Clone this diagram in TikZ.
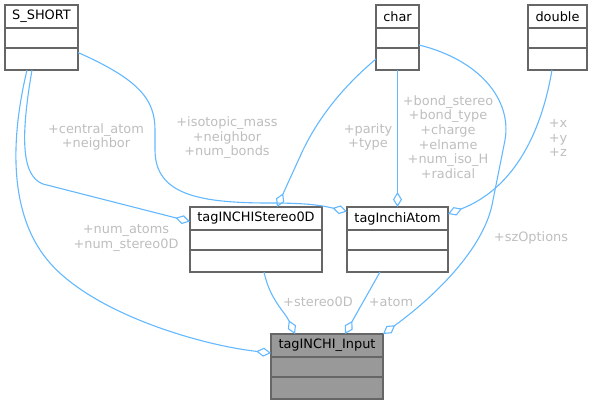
\documentclass[tikz,border=0pt]{standalone}
\usepackage{fontspec}
\setmainfont{DejaVu Sans}
\usetikzlibrary{arrows.meta, positioning}
\usepackage{xcolor}
\definecolor{steelblue}{HTML}{63B8FF}
\definecolor{boxgray}{HTML}{666666}
\definecolor{labelgray}{HTML}{BEBEBE}
\definecolor{inputgray}{HTML}{999999}
\tikzset{classpart/.style={rectangle, draw=boxgray, line width=1.2pt, outer sep=0pt, inner sep=2pt, font=\fontsize{12.9}{14.6}\selectfont},member/.style={steelblue, line width=1.1pt, -{Diamond[open, length=15pt, width=9pt]}},memberlabel/.style={text=labelgray, align=center, inner sep=0pt, font=\fontsize{12.9}{14.6}\selectfont}}

\begin{document}
\begin{tikzpicture}[x=1pt, y=-1pt]
        \useasboundingbox (0,0) rectangle (593,405);
        % Classes
        \foreach \cls/\ttl/\x/\y/\w/\fillc in {
            sshort/S\_SHORT/5/5/73/white,
            char/char/376/5/43/white,
            double/double/528/5/59/white,
            stereo/tagINCHIStereo0D/190/207/132/white,
            atom/tagInchiAtom/347/207/101/white,
            input/tagINCHI\_Input/271/334/112/inputgray} {
            \node[classpart, fill=\fillc, minimum width=\w, minimum height=23, anchor=north west] (\cls) at (\x, \y) {\ttl};
            \node[classpart, fill=\fillc, minimum width=\w, minimum height=20, below=0pt of \cls] (\cls-attr) {};
            \node[classpart, fill=\fillc, minimum width=\w, minimum height=22, below=0pt of \cls-attr] (\cls-ops) {};
        }
        % Members
        \draw[member] ([xshift=-14.5pt]sshort-ops.south) .. controls (8, 150) and (12, 220) .. (50, 263) .. controls (95, 314) and (200, 345) .. ([yshift=4pt]input.south west);
        \draw[member] ([xshift=-9.5pt]sshort-ops.south) .. controls (20, 140) and (22, 176) .. (43, 184) -- ([yshift=-3pt]stereo.west);
        \draw[member] ([yshift=6.5pt]sshort-ops.east) .. controls (140, 80) and (155, 100) .. (155, 130) -- (155, 150) .. controls (155, 195) and (200, 203) .. (270, 203) .. controls (305, 203) and (320, 205) .. ([yshift=7pt]atom.west);
        \draw[member] (char-ops.west) .. controls (345, 85) and (320, 115) .. (303, 150) -- ([xshift=21pt]stereo.north);
        \draw[member] (char-ops.south) -- (atom.north);
        \draw[member] ([yshift=3pt]char-ops.north east) .. controls (480, 60) and (512, 100) .. (505, 140) -- (493, 200) .. controls (485, 250) and (430, 300) .. (input.north east);
        \draw[member] ([xshift=-5.5pt]double-ops.south) .. controls (540, 140) and (510, 190) .. ([yshift=4.5pt]atom.east);
        \draw[member] ([xshift=8pt]stereo-ops.south) .. controls (270, 300) and (285, 312) .. ([xshift=-32pt]input.north);
        \draw[member] ([xshift=-17.5pt]atom-ops.south) -- ([xshift=18pt]input.north);
        % Labels
        \node[memberlabel] (lbl-counts) at (126, 238) {+num\_atoms\\+num\_stereo0D};
        \node[memberlabel] (lbl-central) at (96, 137) {+central\_atom\\+neighbor};
        \node[memberlabel] (lbl-isotopic) at (227, 138) {+isotopic\_mass\\+neighbor\\+num\_bonds};
        \node[memberlabel] (lbl-parity) at (368, 137) {+parity\\+type};
        \node[memberlabel] (lbl-bond) at (448, 137) {+bond\_stereo\\+bond\_type\\+charge\\+elname\\+num\_iso\_H\\+radical};
        \node[memberlabel] (lbl-xyz) at (558, 138) {+x\\+y\\+z};
        \node[memberlabel] (lbl-options) at (531, 238) {+szOptions};
        \node[memberlabel] (lbl-stereo) at (318, 302) {+stereo0D};
        \node[memberlabel] (lbl-atom) at (391, 302) {+atom};
\end{tikzpicture}
\end{document}
